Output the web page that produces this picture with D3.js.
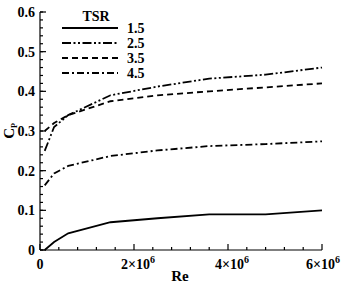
<!DOCTYPE html>
<html>
<head>
<meta charset="utf-8">
<script src="https://cdn.jsdelivr.net/npm/d3@7"></script>
<style>
  body { margin: 0; background: #fff; }
  svg text { font-family: "Liberation Serif", "DejaVu Serif", serif; font-weight: 700; }
</style>
</head>
<body>
<div id="chart"></div>
<script>
const w = 342;
const h = 283;

// Re values (x 10^6) and Cp for each TSR
var re = [0.1, 0.3, 0.6, 1.5, 2.5, 3.6, 4.8, 6.0];
var cp15 = [0.0, 0.02, 0.042, 0.07, 0.08, 0.09, 0.09, 0.1];
var cp25 = [0.25, 0.31, 0.34, 0.39, 0.412, 0.432, 0.442, 0.46];
var cp35 = [0.30, 0.32, 0.34, 0.375, 0.39, 0.40, 0.41, 0.42];
var cp45 = [0.163, 0.193, 0.212, 0.237, 0.251, 0.262, 0.267, 0.274];
var tsr = ["1.5", "2.5", "3.5", "4.5"];
var yTicks = [0, 0.1, 0.2, 0.3, 0.4, 0.5, 0.6];
var xTicks = [0, 2, 4, 6];

var series = [cp15, cp25, cp35, cp45];
var dashes = [null, "9,2.5,2,2.5,2,2.5", "6,4", "7,3,2,3"];

var svg = d3.select("#chart")
    .append("svg")
    .attr("width", w)
    .attr("height", h);

var x = d3.scaleLinear().domain([0, 6]).range([40, 322]);
var y = d3.scaleLinear().domain([0, 0.6]).range([250, 12]);

// minor ticks, inward
var xMinor = d3.range(0, 6.01, 0.4).filter(function(v) { return Math.abs(v / 2 - Math.round(v / 2)) > 0.01; });
var yMinor = d3.range(0, 0.601, 0.02);

var axes = svg.append("g").attr("stroke", "#000").attr("stroke-width", 1.2);

axes.append("line").attr("x1", x(0)).attr("x2", x(6)).attr("y1", y(0)).attr("y2", y(0));
axes.append("line").attr("x1", x(0)).attr("x2", x(0)).attr("y1", y(0)).attr("y2", y(0.6));

axes.selectAll(".xmaj").data(xTicks).enter().append("line")
    .attr("x1", function(d) { return x(d); })
    .attr("x2", function(d) { return x(d); })
    .attr("y1", y(0)).attr("y2", y(0) - 6);

axes.selectAll(".xmin").data(xMinor).enter().append("line")
    .attr("x1", function(d) { return x(d); })
    .attr("x2", function(d) { return x(d); })
    .attr("y1", y(0)).attr("y2", y(0) - 3);

axes.selectAll(".ymaj").data(yTicks).enter().append("line")
    .attr("x1", x(0)).attr("x2", x(0) + 6)
    .attr("y1", function(d) { return y(d); })
    .attr("y2", function(d) { return y(d); });

axes.selectAll(".ymin").data(yMinor).enter().append("line")
    .attr("x1", x(0)).attr("x2", x(0) + 3)
    .attr("y1", function(d) { return y(d); })
    .attr("y2", function(d) { return y(d); });

// tick labels
svg.selectAll(".ylab").data(yTicks).enter().append("text")
    .attr("x", x(0) - 5)
    .attr("y", function(d) { return y(d) + 5; })
    .attr("text-anchor", "end")
    .attr("font-size", 14)
    .text(function(d) { return d === 0 ? "0" : d.toFixed(1); });

var xl = svg.selectAll(".xlab").data(xTicks).enter().append("text")
    .attr("x", function(d) { return d === 0 ? x(d) : (d === 6 ? x(d) + 1 : x(d) + 4); })
    .attr("y", 269)
    .attr("text-anchor", "middle")
    .attr("font-size", 14);
xl.each(function(d) {
    var t = d3.select(this);
    if (d === 0) { t.text("0"); return; }
    t.append("tspan").text(d + "\u00d710");
    t.append("tspan").attr("font-size", 10).attr("dy", -6).text("6");
});

// axis titles
svg.append("text")
    .attr("x", 180).attr("y", 281)
    .attr("text-anchor", "middle")
    .attr("font-size", 15)
    .text("Re");

var yt = svg.append("text")
    .attr("transform", "translate(14,131) rotate(-90)")
    .attr("text-anchor", "middle")
    .attr("font-size", 15);
yt.append("tspan").text("C");
yt.append("tspan").attr("font-size", 8).attr("dy", 3).text("P");

// curves
var line = d3.line()
    .x(function(d, i) { return x(re[i]); })
    .y(function(d) { return y(d); });

svg.selectAll(".curve").data(series).enter().append("path")
    .attr("d", line)
    .attr("fill", "none")
    .attr("stroke", "#000")
    .attr("stroke-width", 1.8)
    .attr("stroke-dasharray", function(d, i) { return dashes[i]; });

// legend
var lg = svg.append("g");
lg.append("text").attr("x", 96).attr("y", 21).attr("text-anchor", "middle")
    .attr("font-size", 14).text("TSR");

var rows = lg.selectAll(".row").data(tsr).enter().append("g")
    .attr("transform", function(d, i) { return "translate(0," + (28 + i * 15) + ")"; });

rows.append("line")
    .attr("x1", 62).attr("x2", 118)
    .attr("stroke", "#000")
    .attr("stroke-width", 1.8)
    .attr("stroke-dasharray", function(d, i) { return dashes[i]; });

rows.append("text")
    .attr("x", 127).attr("y", 5)
    .attr("font-size", 14)
    .text(function(d) { return d; });
</script>
</body>
</html>
